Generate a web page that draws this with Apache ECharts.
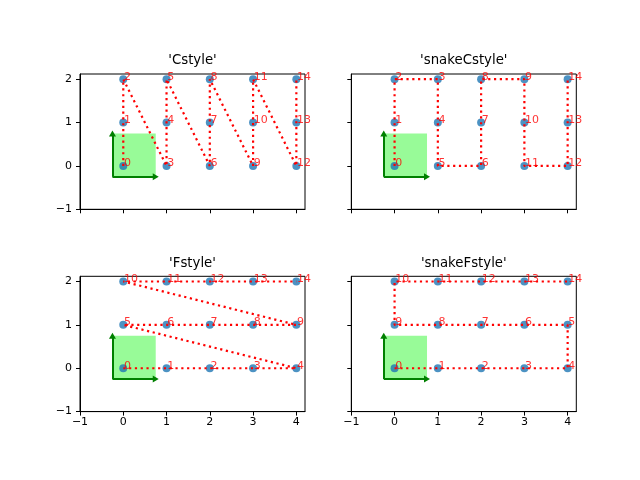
<!DOCTYPE html>
<html>
<head>
<meta charset="utf-8">
<script src="https://cdn.jsdelivr.net/npm/echarts@6/dist/echarts.min.js"></script>
<style>
  html, body { margin: 0; padding: 0; background: #fff; }
  #chart { width: 640px; height: 480px; }
</style>
</head>
<body>
<div id="chart"></div>
<script>
// point order for each memory layout
const titles = ["'Cstyle'", "'snakeCstyle'", "'Fstyle'", "'snakeFstyle'"];

const cstyleX = [0, 0, 0, 1, 1, 1, 2, 2, 2, 3, 3, 3, 4, 4, 4];
const cstyleY = [0, 1, 2, 0, 1, 2, 0, 1, 2, 0, 1, 2, 0, 1, 2];

const snakeCX = [0, 0, 0, 1, 1, 1, 2, 2, 2, 3, 3, 3, 4, 4, 4];
const snakeCY = [0, 1, 2, 2, 1, 0, 0, 1, 2, 2, 1, 0, 0, 1, 2];

const fstyleX = [0, 1, 2, 3, 4, 0, 1, 2, 3, 4, 0, 1, 2, 3, 4];
const fstyleY = [0, 0, 0, 0, 0, 1, 1, 1, 1, 1, 2, 2, 2, 2, 2];

const snakeFX = [0, 1, 2, 3, 4, 4, 3, 2, 1, 0, 0, 1, 2, 3, 4];
const snakeFY = [0, 0, 0, 0, 0, 1, 1, 1, 1, 1, 2, 2, 2, 2, 2];

// green origin box and its two arrows
const boxX = [-0.25, 0.75];
const boxY = [-0.25, 0.75];

const xTicks = [-1, 0, 1, 2, 3, 4];
const yTicks = [-1, 0, 1, 2];

const panels = [
  { xs: cstyleX, ys: cstyleY },
  { xs: snakeCX, ys: snakeCY },
  { xs: fstyleX, ys: fstyleY },
  { xs: snakeFX, ys: snakeFY }
];

const FONT = 'DejaVu Sans';
const grids = [
  { left: 80, top: 74, width: 225, height: 135.3 },
  { left: 351.3, top: 74, width: 225, height: 135.3 },
  { left: 80, top: 276.3, width: 225, height: 135.3 },
  { left: 351.3, top: 276.3, width: 225, height: 135.3 }
];

const ec = echarts.init(document.getElementById('chart'), null, { renderer: 'canvas' });

let xAxes = [], yAxes = [], series = [], texts = [];

panels.forEach((p, i) => {
  const bottomRow = i >= 2;
  const leftCol = i % 2 === 0;
  const pts = p.xs.map((x, k) => [x, p.ys[k]]);

  xAxes.push({
    type: 'value', gridIndex: i, min: -1, max: 4.2,
    splitLine: { show: false },
    axisLine: { show: true, onZero: false, lineStyle: { color: '#000', width: 1 } },
    axisTick: { show: true, length: 4, customValues: xTicks, lineStyle: { color: '#000' } },
    axisLabel: { show: bottomRow, customValues: xTicks, margin: 5, color: '#000',
                 fontFamily: FONT, fontSize: 11, formatter: v => String(v).replace('-', '\u2212') }
  });
  yAxes.push({
    type: 'value', gridIndex: i, min: -1, max: 2.12,
    splitLine: { show: false },
    axisLine: { show: true, onZero: false, lineStyle: { color: '#000', width: 1 } },
    axisTick: { show: true, length: 4, customValues: yTicks, lineStyle: { color: '#000' } },
    axisLabel: { show: leftCol, customValues: yTicks, margin: 8, color: '#000',
                 fontFamily: FONT, fontSize: 11, formatter: v => String(v).replace('-', '\u2212') }
  });

  // box + arrows
  series.push({
    type: 'line', xAxisIndex: i, yAxisIndex: i, data: [], silent: true, z: 1,
    markArea: {
      silent: true,
      itemStyle: { color: '#98fb98', opacity: 1 },
      data: [[{ coord: [boxX[0], boxY[0]] }, { coord: [boxX[1], boxY[1]] }]]
    },
    markLine: {
      silent: true,
      symbol: ['none', 'triangle'],
      symbolSize: [7, 6],
      label: { show: false },
      lineStyle: { color: '#008000', width: 2, type: 'solid' },
      data: [
        [{ coord: [boxX[0], boxY[0]] }, { coord: [boxX[1], boxY[0]] }],
        [{ coord: [boxX[0], boxY[0]] }, { coord: [boxX[0], boxY[1]] }]
      ]
    }
  });

  // blue points
  series.push({
    type: 'scatter', xAxisIndex: i, yAxisIndex: i, data: pts, z: 2,
    symbolSize: 8, itemStyle: { color: '#1f77b4' }, silent: true
  });

  // red dotted path in memory order
  series.push({
    type: 'line', xAxisIndex: i, yAxisIndex: i, data: pts, z: 3,
    symbol: 'none', silent: true,
    lineStyle: { color: '#ff0000', width: 2.2, type: [2.2, 3.6], cap: 'butt' }
  });

  // index labels
  series.push({
    type: 'scatter', xAxisIndex: i, yAxisIndex: i, data: pts, z: 4,
    symbolSize: 8, itemStyle: { color: 'rgba(0,0,0,0)' }, silent: true,
    label: {
      show: true, position: [4.7, 7], align: 'left', verticalAlign: 'bottom',
      color: '#ff0000', fontFamily: FONT, fontSize: 11,
      formatter: d => String(d.dataIndex)
    }
  });

  const g = grids[i];
  texts.push({
    type: 'text', x: g.left + g.width / 2, y: g.top - 13,
    style: { text: titles[i], fill: '#000', font: '13.3px "' + FONT + '"',
             textAlign: 'center', textVerticalAlign: 'middle' }
  });
});

ec.setOption({
  animation: false,
  grid: grids.map(g => Object.assign({ show: true, borderColor: '#000', borderWidth: 1,
                                        backgroundColor: 'transparent', containLabel: false }, g)),
  xAxis: xAxes,
  yAxis: yAxes,
  series: series,
  graphic: texts
});
</script>
</body>
</html>
